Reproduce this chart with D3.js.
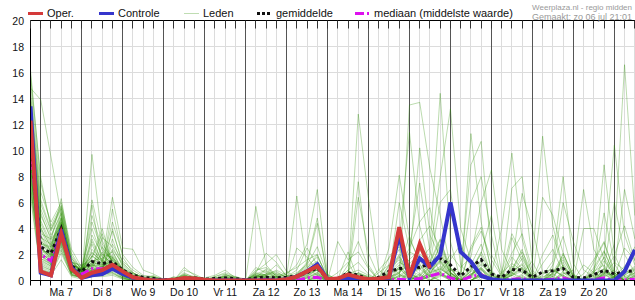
<!DOCTYPE html>
<html>
<head>
<meta charset="utf-8">
<script src="https://cdn.jsdelivr.net/npm/d3@7/dist/d3.min.js"></script>
<style>
  body { margin: 0; background: #fff; }
  svg { display: block; }
  text { font-family: "Liberation Sans", Arial, sans-serif; }
</style>
</head>
<body>
<div id="chart"></div>
<script>
// neerslag per 6 uur (mm) - pluim regio midden
const start = new Date(2025, 6, 6, 18);   // eerste stap: zo 6 jul 18:00
const nStappen = 60;                      // 6-uurlijkse stappen

const dagLabels = ["Ma 7", "Di 8", "Wo 9", "Do 10", "Vr 11", "Za 12", "Zo 13",
                   "Ma 14", "Di 15", "Wo 16", "Do 17", "Vr 18", "Za 19", "Zo 20"];
const yTicks = [0, 2, 4, 6, 8, 10, 12, 14, 16, 18, 20];

// operationele run (korter)
const oper = [12.3, .7, .4, 3.6, .9, .2, .6, .8, 1.2, .7, .25, .1,
  0, 0, .05, .2, .15, .05, 0, 0, 0, 0, 0, 0, 0, .1, .3, .7, 1.1, .1, .15, .45,
  .25, .1, .15, .25, 4.1, .25, 2.8, .95];

const controle = [13.4, .6, .4, 3.9, 1, .2, .4, .5, .9, .5, .2, .05,
  0, 0, 0, .1, .1, 0, 0, 0, 0, 0, 0, 0, 0, .1, .3, .7, 1.25, .1, .1, .2,
  .1, .05, .1, .2, 3.5, .2, 1.7, 1.05, 1.95, 6, 2.2, 1.45, .35, .1, 0, 0, 0, 0,
  0, 0, 0, 0, 0, 0, 0, 0, .7, 2.35];

const gemiddelde = [10.8, 2.6, 2.1, 4, 1.1, .7, 1.45, 1.3, 1.45, .8, .4, .25,
  .15, .05, .1, .15, .2, .1, .15, .2, .15, .05, .2, .25, .2, .25, .35, .6, .95, .15, .15, .6,
  .4, .1, .25, .7, .9, 1.05, 1, 1.3, 1.7, 1.2, .35, 1.05, 1.6, .5, .25, .85, .8, .25,
  .65, .75, .92, .25, .2, .45, .78, .5, .68, .75];

const mediaan = [10.5, 2, 1.5, 3.8, .9, .5, .9, .9, 1.1, .5, .2, .1,
  0, 0, 0, 0, 0, 0, 0, .05, 0, 0, 0, .1, 0, 0, 0, .2, .25, 0, 0, .1,
  0, 0, 0, .05, .1, .05, .15, .35, .55, .2, 0, .3, .45, .05, 0, .1, .15, 0,
  .05, .1, .2, 0, 0, .05, .2, 0, .05, .1];

// leden: zo 18u t/m do 00u (12 stappen)
const ledenA = [
  [16.2, 7.5, 4.2, 5.8, 2.1, .8, 1.2, .9, 2.3, .6, .2, 0],
  [14.8, 13.9, 9.5, 5, 1.5, .6, .8, 1.1, 1.4, .5, .1, 0],
  [13.5, 5.2, 3.1, 6.3, 1.8, .4, 9.7, 3.1, 1.2, .4, .1, 0],
  [12.9, 4.1, 2.5, 4.8, 1.2, .9, 2.1, 1.5, 6.4, 2.5, 2.4, .8],
  [12.1, 3.2, 1.8, 3.9, .8, .5, 1, .7, 1.1, .3, .1, 0],
  [11.8, 2.4, 2, 4.5, 1, .3, 6.2, 2.8, 1.7, .7, .3, .1],
  [11.2, 1.9, 1.2, 3.4, .6, .7, .6, .9, 5.5, 1.8, .6, .2],
  [10.7, 2.8, 2.6, 5.2, 1.4, 1.1, 1.8, 4, 1.3, .8, .2, 0],
  [10.2, 1.2, .8, 2.9, .5, .2, .5, .4, .9, .2, 0, 0],
  [9.6, 3.6, 3.2, 4.1, 1.1, .6, 5.8, 1.2, 2, .9, .5, .3],
  [9.1, .9, .6, 3, .9, .4, 1.3, .6, 4, 1.2, .4, .1],
  [8.4, 2.1, 1.5, 3.6, .7, .8, .9, 2.2, .8, .4, .1, 0],
  [7.6, 1.5, 1.1, 2.4, .4, .3, .4, .5, .6, .1, 0, 0],
  [6.8, .7, .4, 1.6, .3, .1, .3, .3, .4, .1, 0, 0],
  [15.3, 6.8, 4.5, 6, 2.4, 1, 1.5, 1, 1.9, .6, .3, .2],
  [14.1, 5.9, 3.8, 5.5, 1.6, .7, 5, 2.5, 1.5, .9, .4, .1],
  [13, 4.6, 2.9, 4.9, 1.3, .6, 1.1, .8, 3.2, 1, .2, 0],
  [12.4, 3.9, 2.2, 4.3, 1, .5, .7, .6, 1, .5, .1, 0],
  [11.6, 3, 2.4, 4.6, 1.2, 1, 4, 1.8, 1.4, .7, .3, .1],
  [11, 2.6, 1.7, 3.7, .9, .4, 1, 3.3, 2.6, 1.1, .2, 0],
  [10.5, 2.2, 1.4, 4, .8, .6, .8, .9, 1.2, .6, .2, 0],
  [9.9, 1.8, 1.9, 4.2, 1, .9, 3, 1.4, .9, .3, .1, 0],
  [9.3, 1.4, 1, 3.2, .6, .3, .6, .7, 1.8, .9, .6, .2],
  [8.8, 2.9, 2.3, 4.4, 1.3, .7, 1.6, 1.2, 1.1, .4, .1, 0],
  [8, 1, .7, 2.7, .5, .2, .4, .4, .7, .2, 0, 0],
  [7.2, 1.7, 1.3, 3.3, .7, .5, 2.4, 1.6, 1, .5, .2, .1],
  [15.8, 7.9, 4, 5.6, 1.9, .8, 1.4, 1.1, 1.6, .7, .2, 0],
  [13.8, 5.5, 3.5, 5.1, 1.5, .6, 1.2, .9, 2.8, 1.5, .8, .3],
  [12.7, 4.4, 2.7, 4.7, 1.1, .5, 3.5, 2, 1.3, .6, .1, 0],
  [12, 3.4, 2, 4.2, .9, .4, .9, .7, 1, .4, .1, 0],
  [11.4, 2.7, 1.6, 3.8, 1, .8, 1.9, 1.3, 4.5, 2, 1, .4],
  [10.9, 2.3, 2.1, 4.4, 1.2, .9, 1.1, 2.6, 1.5, .8, .3, .1],
  [10.3, 2, 1.3, 3.5, .7, .3, .8, .8, 1.1, .5, .2, 0],
  [9.7, 1.6, 1.1, 3.1, .6, .5, 2.8, 1, .8, .3, 0, 0],
  [9, 3.3, 2.8, 4.8, 1.4, 1.2, 1.5, 1.7, 2.2, .9, .4, .1],
  [8.6, 1.3, .9, 2.6, .5, .2, .5, .6, .9, .4, .1, 0],
  [7.9, 2.5, 1.8, 3.9, .9, .7, 1.7, 3.6, 1.2, .6, .2, 0],
  [6.4, .6, .5, 2.1, .4, .2, .3, .4, .5, .2, 0, 0],
  [14.5, 6.2, 3.9, 5.7, 1.7, .9, 1.3, 1, 1.7, .8, .3, .1],
  [13.3, 5, 3.3, 5.3, 1.4, .7, 2.2, 1.4, 3.8, 1.4, .5, .2],
  [12.6, 4, 2.6, 4.5, 1.1, .6, 1, .8, 1.2, .5, .1, 0],
  [11.9, 3.5, 2.2, 4.1, 1, .5, 4.5, 2.3, 1.6, .7, .3, 0],
  [11.3, 2.9, 1.9, 3.6, .8, .4, .7, .6, 1, .4, .1, 0],
  [10.6, 2.5, 1.5, 3.8, .9, .8, 1.4, 1.2, 2.4, 1.3, .6, .2],
  [10, 2, 1.6, 4, 1, .6, 1.2, 1.1, .9, .3, .1, 0],
  [9.4, 1.7, 1.2, 3.3, .7, .4, .8, .9, 1.4, .6, .2, 0],
  [8.9, 1.1, .8, 2.8, .6, .3, 3.2, 1.5, 1.1, .5, .2, .1],
  [8.2, 2.2, 2, 4.2, 1.1, .9, 1.3, 2, 1.8, .8, .3, 0],
  [7.4, .8, .6, 2.3, .4, .2, .4, .5, .6, .2, 0, 0],
  [6.9, 1.9, 1.4, 3, .8, .5, 1.9, 1.3, .9, .4, .1, 0]
];

// leden: do 06u t/m ma 14 18u (20 stappen)
const ledenB = [
  [0, 0, 0, .1, 0, 0, 0, .2, 0, 0, .3, .1, 0, 0, .2, .4, .6, 0, 0, .3],
  [0, 0, 0, 0, 0, 0, 0, 0, 0, 0, 0, 0, 0, 0, 0, .2, .3, 0, 0, .1],
  [.1, 0, 0, .3, .1, 0, 0, 0, 0, 0, .5, .8, .2, .1, .3, .9, 2, .1, 0, .5],
  [.5, .1, .2, .4, .2, .1, .3, .5, .1, 0, 0, 0, 0, 0, 0, 0, .1, 0, 0, 0],
  [0, 0, 0, 0, 0, 0, 0, 0, 0, 0, 5.7, 1.2, .3, 0, .1, .5, .9, .2, 0, .4],
  [0, 0, 0, .2, .3, 0, 0, .1, 0, 0, 0, 0, 0, 0, 0, 0, 0, 0, 0, 0],
  [.1, 0, 0, 0, 0, 0, .1, .3, .2, 0, .2, .4, .6, .3, .8, 2.5, 1.2, .1, 0, .2],
  [0, 0, 0, 1, .4, 0, 0, 0, 0, 0, 0, 0, 0, 0, 0, 0, 0, 0, 0, 0],
  [0, 0, 0, 0, 0, 0, 0, 0, 0, 0, 0, .3, .2, 0, .4, 1.3, 4.4, .3, 0, .6],
  [.3, 0, .1, .2, .1, 0, 0, .4, .3, .1, .4, .2, 0, 0, 0, 0, 0, 0, 0, 0],
  [0, 0, 0, 0, 0, 0, 0, 0, 0, 0, .8, 1, .5, .2, .1, .3, .5, 0, 0, 0],
  [0, 0, 0, 0, 0, 0, 0, 0, 0, 0, 0, 0, 0, .2, 6.5, 1, .4, 0, 0, 0],
  [0, 0, 0, .3, 0, 0, 0, 0, 0, 0, 0, 0, 0, 0, 0, 0, 0, 0, 0, 0],
  [0, 0, 0, 0, 0, 0, 0, 0, 0, 0, .2, .5, 1.2, .4, 0, 0, 0, 0, 0, .1],
  [.2, 0, 0, .1, .3, .2, .4, .8, .2, 0, 0, 0, 0, 0, .3, .6, 1, .2, 0, .8],
  [0, 0, 0, 0, 0, 0, 0, 0, 0, 0, .4, .2, 0, 0, 0, 0, .2, 0, 0, 0],
  [0, 0, 0, .6, .2, 0, 0, 0, 0, 0, 0, 0, 0, 0, 0, .4, .8, 0, 0, .3],
  [0, 0, .3, 0, 0, 0, 0, 0, 0, 0, 1, .6, .3, 0, 0, 0, 0, 0, 0, 0],
  [.1, 0, 0, 0, 0, 0, 0, .3, .1, 0, 0, 0, 0, 0, .5, 1.1, 1.8, .4, .1, 2.2],
  [0, 0, 0, 0, 0, 0, 0, 0, 0, 0, .6, 2.1, 1.4, .3, 0, 0, 0, 0, 0, 0],
  [0, 0, 0, 0, 0, 0, 0, 0, 0, 0, 0, 0, .2, .5, 1.2, 2.8, 7, .5, 0, .2],
  [.2, .1, 0, .5, .3, 0, .2, .2, 0, 0, 0, 0, 0, 0, 0, 0, 0, 0, 0, 0],
  [0, 0, 0, 0, 0, 0, 0, 0, 0, 0, 0, .4, .8, .4, 0, 0, .3, 0, 0, 0],
  [0, 0, 0, 0, 0, 0, 0, 0, 0, 0, 0, 0, 0, 0, 0, 0, 0, 0, 0, 0],
  [0, 0, 0, 0, 0, 0, 0, .5, .2, 0, .3, .7, .4, .1, .2, .6, 1.4, .2, 0, .4],
  [.4, 0, 0, .2, 0, 0, 0, 0, 0, 0, 0, 0, 0, 0, 0, .2, .5, 0, 0, 0],
  [0, 0, 0, 0, 0, 0, 0, 0, 0, 0, 0, 0, .3, .6, 1, 1.6, 2, .1, 0, 0],
  [0, 0, 0, .8, .5, .1, 0, 0, 0, 0, .5, .3, 0, 0, 0, 0, 0, 0, 0, 0],
  [0, 0, 0, 0, 0, 0, .3, .6, .3, 0, 0, 0, 0, 0, 0, 0, .4, .1, .6, 1.4],
  [0, 0, 0, 0, 0, 0, 0, 0, 0, 0, 0, 0, 0, 0, 0, 0, 0, 0, 0, 0],
  [.3, .1, 0, 0, 0, 0, 0, 0, 0, 0, .3, .5, .7, .2, 0, 0, 0, 0, 0, 0],
  [0, 0, 0, .4, .2, 0, 0, 0, 0, 0, 0, 0, 0, 0, .4, 1, 1.5, .3, 0, .5],
  [0, 0, 0, 0, 0, 0, 0, 0, 0, 0, .7, 1.3, 2, .7, .2, 0, 0, 0, 0, 0],
  [0, 0, 0, 0, 0, 0, 0, .2, 0, 0, 0, 0, 0, 0, 0, 0, 0, 0, 0, 0],
  [.1, 0, .2, .3, .1, 0, .2, .3, .1, 0, 0, .2, .5, .3, .6, 1.2, 2.6, .4, 0, .8],
  [0, 0, 0, 0, 0, 0, 0, 0, 0, 0, 0, 0, 0, 0, .5, 1.4, 4.8, .2, 0, 0],
  [0, 0, 0, .5, 0, 0, 0, 0, 0, 0, .4, .2, 0, 0, 0, 0, 0, 0, 0, 0],
  [0, 0, 0, 0, 0, 0, 0, 0, 0, 0, 0, 0, 0, 0, 0, 0, 0, 0, 0, 0],
  [.2, 0, 0, 0, 0, 0, 0, 0, 0, 0, .2, .9, .4, 0, 0, .3, .9, .1, 0, 1.2],
  [0, 0, 0, .2, .1, 0, 0, .1, 0, 0, 0, 0, 0, 0, 2.5, 1.8, .7, 0, 0, 0],
  [0, 0, 0, 0, 0, 0, 0, 0, 0, 0, 0, 0, 0, 0, 0, 0, 0, 0, 0, 0],
  [.1, 0, 0, .4, .2, 0, 0, .4, .2, 0, .5, .4, .2, 0, 0, 0, .3, 0, 0, .2],
  [0, 0, 0, 0, 0, 0, 0, 0, 0, 0, 0, 0, 0, 0, 0, .2, .6, 0, 0, 0],
  [0, 0, 0, 0, 0, 0, 0, 0, 0, 0, .3, .3, 0, 0, 0, 0, 0, 0, 3, 1.6],
  [.2, 0, 0, 0, 0, 0, 0, 0, 0, 0, 0, 0, .3, .2, .3, .7, 1.2, 0, 0, .5],
  [0, 0, 0, .3, 0, 0, .2, .3, 0, 0, 0, 0, 0, 0, 0, 0, 0, 0, 0, 0],
  [0, 0, 0, 0, 0, 0, 0, 0, 0, 0, .6, .4, 0, 0, .2, .5, .8, .2, 0, .3],
  [.3, 0, 0, .2, .1, 0, 0, 0, 0, 0, 0, 0, 0, 0, 0, 0, 0, 0, 0, 0],
  [0, 0, 0, 0, 0, 0, 0, 0, 0, 0, 0, 0, 0, 0, 0, 0, 0, 0, 0, 0],
  [0, 0, 0, .1, 0, 0, 0, .2, 0, 0, .2, .5, .3, 0, .3, .8, 1.1, .1, 0, .6]
];

// leden: di 15 00u t/m ma 21 12u (28 stappen)
const ledenC = [
  [.2, 0, 0, .5, 1.2, .3, 0, .4, 2.1, .6, 0, .3, 1.5, .2, 0, .8, 2.4, 0, 0, .3, 1.2, 0, 0, 0, .6, .2, .5, 1.1],
  [12.8, 6.3, .8, .2, 0, .4, 1.1, .3, 0, 0, 0, .5, .9, 0, 0, 0, .3, 0, 0, 0, 0, 0, 0, 0, 1.5, .4, 0, 0],
  [7.6, 1.2, 0, .3, .5, 2.2, 1.8, .6, 1.4, .3, 0, 0, .4, 0, 0, 1.1, .6, 0, 0, 0, .7, .2, 0, .4, .9, 0, 0, .6],
  [6.4, 2.1, .3, 0, 0, 0, .5, 1.3, 3.1, 1, 0, .2, .8, 0, 0, 0, 0, 0, .3, .5, 0, 0, 0, 0, 0, 0, .2, .5],
  [0, 0, 0, 2.5, 8.1, 3.2, 1.5, .6, .9, .3, 0, 1.2, 2.8, .4, 0, .5, 1, 0, 0, 0, 2.1, .3, 0, .6, 1.8, .5, 0, .9],
  [.3, 0, 0, 0, 0, 13.5, 13.7, 8.6, 5, 1, 0, 0, 0, 0, 0, .4, .9, 0, 0, 0, 0, 0, 0, 0, 0, .3, 1.1, 2],
  [0, 0, 0, 1.2, 3, 11.4, 4.2, 1.1, .5, 0, 0, 2.6, 4.1, .8, 0, 0, 0, 0, 0, 1.2, 3.4, .5, 0, 0, 0, 0, 0, 0],
  [0, 0, 0, .8, 2, 1.5, 10.2, 3.5, 1.8, .6, 0, 0, .6, 0, 0, 3.3, 1.5, 0, 0, 0, 0, 0, 0, 1.4, 2.9, .8, 0, 0],
  [.5, .3, 0, .4, 6, 2.4, 7.5, 2.2, .6, 0, 0, .4, 1.6, .3, .2, 1.8, .9, 0, 0, .8, .4, 0, 0, .2, .6, .3, 2.5, 1.6],
  [0, 0, 0, 0, .4, .9, 1.6, 2.5, 14.4, 3, 0, 0, .5, 0, 0, 0, 0, 0, .6, .9, .3, 0, 0, 0, 0, 0, 0, .3],
  [0, 0, 0, .6, 1.4, 1, .8, 1.9, 8, 13.2, 4, 1.5, .3, 0, 0, 0, .2, 0, 0, 0, 0, 0, 0, .7, 1.2, 0, 0, 0],
  [0, 0, .8, 1.7, 2.6, .8, 0, 1.2, 6, 7, 1.2, .3, 0, 0, 0, 0, 0, 0, 0, .4, 1.1, .2, 0, 0, 0, .3, .8, .5],
  [0, 0, 0, 0, .6, 1.3, 2, 1.5, 3.2, .6, 0, 11.3, 4.5, .7, 0, .8, 1.9, .2, 0, 0, 0, 0, 0, 0, 0, 0, 0, 0],
  [.4, 0, 0, 0, 0, 0, .4, 1, 2.6, .8, .6, 8.9, 10.7, 2, .5, .4, 0, 0, 0, 0, 0, 0, 0, .8, 2.2, .6, 0, .3],
  [0, 0, 0, .9, 1.6, .4, 0, .7, 1.5, .5, .3, 6, 8, 3.5, 0, 0, 0, 0, 0, 0, 0, 0, 0, 0, 0, 0, .4, 1],
  [0, 0, 0, 0, 0, 0, 0, 0, .8, 2, 1, 1.8, 6, 8.5, 2.4, .6, .2, 0, 0, .5, 1.6, .3, 0, 0, .4, .2, 0, 0],
  [.2, 0, 0, .4, .9, .2, 0, .3, .9, .4, 0, .7, 2.1, 5, .6, 1.3, .8, 0, 0, 0, 0, 0, 0, 0, 0, 0, 0, .4],
  [0, 0, 0, 0, 0, 0, 0, 0, 0, 0, 0, .3, 1.2, .5, 4, 9.8, 3.2, .4, 0, 0, 0, 0, 0, 0, .8, .3, 0, 0],
  [0, 0, 0, .5, 1.8, .3, 0, 0, .4, .2, 0, 0, 0, 0, .3, 7.1, 8, 1.4, 0, .5, 1.8, .2, 0, 0, 0, 0, 0, 0],
  [0, 0, .2, .4, 0, 0, 0, 0, 0, 0, 0, .5, 1, .2, 0, 1.2, 6.7, 4, .6, .3, 0, 0, 0, 0, 0, 0, 0, 0],
  [0, 0, 0, 0, 0, 0, 0, 0, .3, .9, 0, 0, 0, 0, 0, 0, .5, 1.5, 11.1, 4.2, 1, 0, 0, 0, .3, .6, 0, 0],
  [.6, .3, 0, 0, 0, .8, 1.2, .4, 0, 0, 0, 0, .4, 0, 0, 0, 0, 0, 6.4, 5, 2.1, .4, 0, 0, 0, 0, 0, .2],
  [0, 0, 0, 0, .7, 1.2, .5, 0, 0, 0, 0, 0, 0, 0, 0, .6, 1.3, 0, .4, 1.5, 8, 1.3, 0, 0, .5, 0, 0, 0],
  [0, 0, 0, 0, 0, 0, 0, .6, 1.5, .4, 0, 0, 0, 0, 0, 0, 0, 0, 0, .9, 6, 3, .8, .3, 0, 0, 0, 0],
  [.3, 0, 0, .6, .9, .3, 0, 0, 0, 0, 0, .7, .9, 0, 0, 0, 0, 0, 0, 0, .5, .8, 7, 2.4, 1, .2, 0, 0],
  [0, 0, 0, 0, 0, .5, .9, .3, .6, .2, 0, 0, 0, 0, 0, .4, 1, .2, 0, 0, 0, 0, 4, 4, 1.6, .4, 0, 0],
  [0, 0, 0, 0, 0, 0, 0, 0, 0, 0, 0, 0, 0, 0, 0, 0, 0, 0, 0, .3, 1, .4, 0, .5, 8.9, 2, .3, 0],
  [.5, .2, 0, 1.1, 2.4, .7, 0, 0, 0, 0, 0, 0, .6, 0, 0, 0, .4, 0, 0, 0, 0, 0, 0, .6, 5.2, 1.3, 0, .4],
  [0, 0, 0, 0, 0, 0, 0, 0, 0, 0, 0, 0, 0, 0, .2, .6, 0, 0, 0, 0, 0, 0, 0, 0, 1.8, 10.4, 3.5, 1.2],
  [0, 0, 0, 0, .3, .8, .4, 0, 0, 0, 0, 0, 0, 0, 0, 0, 0, 0, 0, 0, .6, .2, 0, 0, .9, 6, 2, .6],
  [0, 0, 0, 0, 0, 0, 0, 0, 0, 0, 0, 0, 0, 0, 0, 0, 0, 0, 0, 0, 0, 0, 0, 0, .5, 2.8, 16.6, 5],
  [.8, .4, 0, 0, 0, 0, .3, 1.4, 2, .7, 0, 0, .3, 0, 0, .7, 1.2, 0, 0, 0, 0, 0, 0, 0, .4, .8, 7, 3.2],
  [0, 0, 0, 1.8, 2.8, 1.1, 0, 0, 0, 0, 0, 0, 0, 0, 0, 0, 0, 0, 0, 0, 0, 0, 0, 0, 0, .2, .9, 2.6],
  [0, 0, 0, 0, 0, 0, 0, .4, 1, .3, 0, .9, 2, .4, 0, 0, 0, 0, .2, .8, .3, 0, 0, 0, 0, 0, 0, 0],
  [1.4, .5, 0, .3, .6, 1.6, 2.4, 1, .4, 0, 0, 0, 0, 0, 0, .5, 1.7, .3, 0, 0, 0, 0, 0, 1, 2.3, .4, 0, 0],
  [0, 0, .6, 1.2, .5, 0, 0, 0, 0, 0, 0, .4, 1.3, .5, 0, 0, 0, 0, 0, 0, 0, 0, 1.2, .6, 0, 0, 0, .8],
  [.2, 0, 0, 0, 0, 0, 0, .8, 1.6, .6, 0, 0, 0, 0, .4, 2.1, 3.6, .8, 0, 0, 0, 0, 0, 0, 0, 0, 0, 0],
  [0, 0, 0, 0, .9, 2.5, 4.5, 5.6, 1.2, .3, 0, 0, 0, 0, 0, 0, 0, 0, 0, .6, 1.4, 0, 0, 0, 0, 0, .3, .6],
  [3, 1, 0, 0, 0, 0, 0, 0, 0, 0, 0, .8, 2.2, .6, 0, 0, 0, 0, 2, 3.5, 1, 0, 0, 0, 0, 0, 0, 0],
  [0, 0, 0, 0, 0, 0, 0, 0, 0, 0, 0, 0, 0, 0, 0, 0, 0, 0, 0, 0, 0, 0, .2, .4, .9, .2, 0, 0],
  [.6, .2, 0, .5, 1, .4, .2, .5, 1.1, .3, 0, .3, .9, .2, 0, .4, .7, 0, 0, 0, .4, 0, 0, .3, .7, .3, .4, .9],
  [0, 0, 0, 0, 0, .6, 3.1, 4.2, 2.4, .5, 0, 0, 0, 0, 0, 0, 0, 0, 0, 0, 0, 0, 0, 0, 0, 0, 0, 0],
  [0, 0, 0, 0, 0, 0, 0, 0, 0, 0, 0, 2.4, 3.8, 1.6, .3, 0, 0, 0, 0, 0, 0, 0, .5, 1.6, 3, .6, 0, 0],
  [2.2, .9, 0, 0, .4, .2, 0, 0, 0, 0, 0, 0, 0, 0, 0, .9, 2.2, .6, 0, 0, 0, 0, 0, 0, 0, 0, .8, 2.4],
  [0, 0, 0, 0, 0, 0, 0, 0, .6, 1.6, 2.8, 1, 0, 0, 0, 0, 0, 0, 0, .6, 2, .4, 0, 0, 0, 0, 0, 0],
  [0, 0, 0, 0, 1.1, 3.4, 1.3, 0, 0, 0, 0, 0, 0, 0, 0, 0, 0, 0, 1.3, 2.4, .6, 0, 0, 0, 0, 0, 0, 0],
  [.4, 0, 0, 0, 0, 0, 0, 0, .5, .2, 0, 0, .5, .2, 0, 0, 0, 0, 0, 0, 0, 0, 0, 0, .6, 1.9, 4.2, 1.5],
  [0, 0, 0, .7, 1.9, .6, 0, .3, .7, 0, 0, 0, 0, 0, 0, 0, 0, 0, 0, 0, 0, 0, 0, 0, 0, 0, 0, 0],
  [0, 0, 0, 0, 0, 0, 0, 0, 0, 0, 0, 0, 0, 0, .6, 3.6, 2, .3, 0, 0, 0, 0, 0, 0, 0, 0, 0, 0],
  [0, 0, 0, 0, .3, .5, .2, .9, 2.8, .9, 0, .4, 1, .2, 0, 0, 0, 0, 0, 0, 0, 0, 0, 0, .5, 1.4, .8, .3]
];

const leden = ledenA.map((r, k) => r.concat(ledenB[k], ledenC[k]));

// --- opzet ---
const W = 635, H = 300;
const plotL = 30.5, plotT = 20.5, plotB = 280.5;
const times = d3.range(nStappen).map(k => d3.timeHour.offset(start, 6 * k));

const x = d3.scaleTime().domain([times[0], times[nStappen - 1]]).range([plotL, 634.8]);
const y = d3.scaleLinear().domain([0, 20]).range([plotB, plotT]);
const px = v => Math.floor(v) + 0.5;

const svg = d3.select("#chart").append("svg")
    .attr("width", W).attr("height", H);
svg.append("rect").attr("width", W).attr("height", H).attr("fill", "#fff");

// rasterlijnen
svg.append("g").selectAll("line")
    .data(yTicks.filter(v => v > 0 && v < 20))
    .enter().append("line")
    .attr("x1", plotL).attr("x2", W)
    .attr("y1", d => y(d)).attr("y2", d => y(d))
    .attr("stroke", "#dcdcdc");

svg.append("g").selectAll("line")
    .data(times.filter(t => t.getHours() !== 0))
    .enter().append("line")
    .attr("x1", d => px(x(d))).attr("x2", d => px(x(d)))
    .attr("y1", plotT).attr("y2", plotB)
    .attr("stroke", "#dcdcdc");

// daggrenzen
svg.append("g").selectAll("line")
    .data(times.filter(t => t.getHours() === 0))
    .enter().append("line")
    .attr("x1", d => px(x(d))).attr("x2", d => px(x(d)))
    .attr("y1", plotT).attr("y2", plotB)
    .attr("stroke", "#555");

// lijnen
svg.append("clipPath").attr("id", "plotclip")
  .append("rect").attr("x", plotL).attr("y", plotT - 1).attr("width", W - plotL).attr("height", plotB - plotT + 1);

const plot = svg.append("g").attr("clip-path", "url(#plotclip)");
const line = d3.line().x((d, k) => x(times[k])).y(d => y(d));

plot.append("g").selectAll("path")
    .data(leden)
    .enter().append("path")
    .attr("d", line)
    .attr("fill", "none")
    .attr("stroke", "#2a9000")
    .attr("stroke-opacity", 0.32)
    .attr("stroke-width", 1);

plot.append("path").datum(mediaan).attr("d", line)
    .attr("fill", "none").attr("stroke", "#dd11ee").attr("stroke-width", 3)
    .attr("stroke-dasharray", "9,3,2,3");

plot.append("path").datum(gemiddelde).attr("d", line)
    .attr("fill", "none").attr("stroke", "#111").attr("stroke-width", 3)
    .attr("stroke-dasharray", "3,3");

plot.append("path").datum(controle).attr("d", line)
    .attr("fill", "none").attr("stroke", "#3535cc").attr("stroke-width", 4);

plot.append("path").datum(oper).attr("d", line)
    .attr("fill", "none").attr("stroke", "#d43a3a").attr("stroke-width", 4);

// kader en tikjes
svg.append("line").attr("x1", plotL).attr("x2", W).attr("y1", plotT).attr("y2", plotT).attr("stroke", "#000");
svg.append("line").attr("x1", plotL).attr("x2", W).attr("y1", plotB).attr("y2", plotB).attr("stroke", "#000");
svg.append("line").attr("x1", plotL).attr("x2", plotL).attr("y1", plotT).attr("y2", plotB).attr("stroke", "#000");

svg.append("g").selectAll("line")
    .data(times)
    .enter().append("line")
    .attr("x1", d => px(x(d))).attr("x2", d => px(x(d)))
    .attr("y1", plotT).attr("y2", plotT + 8)
    .attr("stroke", "#333");

svg.append("g").selectAll("line")
    .data(times)
    .enter().append("line")
    .attr("x1", d => px(x(d))).attr("x2", d => px(x(d)))
    .attr("y1", plotB).attr("y2", plotB + 5)
    .attr("stroke", "#000");

// aslabels
svg.append("g").selectAll("text")
    .data(yTicks)
    .enter().append("text")
    .attr("x", 24).attr("y", d => y(d) + 4)
    .attr("text-anchor", "end")
    .attr("font-size", "10.5px")
    .attr("fill", "#111")
    .text(d => d);

svg.append("g").selectAll("text")
    .data(dagLabels)
    .enter().append("text")
    .attr("x", (d, k) => x(d3.timeHour.offset(start, 18 + 24 * k)))
    .attr("y", 295.5)
    .attr("text-anchor", "middle")
    .attr("font-size", "10.5px")
    .attr("fill", "#111")
    .text(d => d);

// legenda
const legenda = [
  { naam: "Oper.", x: 28, kleur: "#d43a3a", breed: 3, streep: null, op: 1 },
  { naam: "Controle", x: 99, kleur: "#3535cc", breed: 3, streep: null, op: 1 },
  { naam: "Leden", x: 184, kleur: "#2a9000", breed: 1, streep: null, op: 0.3 },
  { naam: "gemiddelde", x: 257, kleur: "#111", breed: 3, streep: "3,2", op: 1 },
  { naam: "mediaan (middelste waarde)", x: 355, kleur: "#dd11ee", breed: 3, streep: "9,3,2,20", op: 1 }
];

const leg = svg.append("g").selectAll("g").data(legenda).enter().append("g");
leg.append("line")
    .attr("x1", d => d.x).attr("x2", d => d.x + 15)
    .attr("y1", 13.5).attr("y2", 13.5)
    .attr("stroke", d => d.kleur)
    .attr("stroke-width", d => d.breed)
    .attr("stroke-opacity", d => d.op)
    .attr("stroke-dasharray", d => d.streep);
leg.append("text")
    .attr("x", d => d.x + 19).attr("y", 17)
    .attr("font-size", "11px")
    .attr("fill", "#111")
    .text(d => d.naam);

// bron
svg.append("text").attr("x", 632).attr("y", 9.5)
    .attr("text-anchor", "end").attr("font-size", "8px").attr("fill", "#999")
    .text("Weerplaza.nl - regio midden");
svg.append("text").attr("x", 632).attr("y", 19.5)
    .attr("text-anchor", "end").attr("font-size", "9px").attr("fill", "#999")
    .text("Gemaakt: zo 06 jul 21:01");
</script>
</body>
</html>
